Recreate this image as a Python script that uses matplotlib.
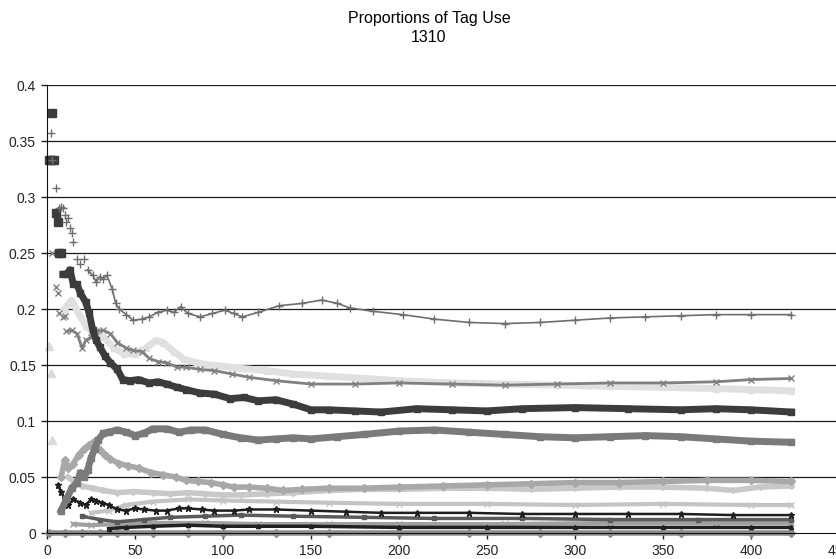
import matplotlib
matplotlib.use("Agg")
import matplotlib.pyplot as plt

plt.rcParams['font.family'] = ['Liberation Sans', 'DejaVu Sans']

# gray "+" series (upper, ends ~0.195)
plus_start_x = [2, 3, 5, 7, 8, 9, 10, 11, 12, 13, 14, 15, 17, 19, 21]
plus_start_y = [0.357, 0.333, 0.308, 0.29, 0.291, 0.29, 0.284, 0.278, 0.281, 0.272, 0.268, 0.26, 0.245, 0.24,
                0.245]
plus_x = [23, 26, 28, 30, 32, 34, 37, 39, 41, 45, 49, 54, 58, 63, 68, 72, 76,
          80, 87, 94, 101, 106, 111, 120, 132, 145, 156, 165, 172, 185, 202, 220, 240, 260, 280, 300, 320,
          340, 360, 380, 400, 423]
plus_y = [0.235, 0.23, 0.224, 0.229, 0.227, 0.23, 0.218, 0.205, 0.2, 0.195, 0.19, 0.191, 0.193, 0.197,
          0.199, 0.197, 0.202, 0.196, 0.193, 0.196, 0.199, 0.196, 0.193, 0.197, 0.203, 0.205, 0.208, 0.205,
          0.201, 0.198, 0.195, 0.191, 0.188, 0.187, 0.188, 0.19, 0.192, 0.193, 0.194, 0.195, 0.195, 0.195]

# dark squares (ends ~0.108)
dark_start_x = [1, 2, 3, 4, 5, 6, 7, 8]
dark_start_y = [0.333, 0.333, 0.375, 0.333, 0.286, 0.278, 0.25, 0.25]
dark_x = [9, 11, 13, 15, 17, 19, 22, 24, 26, 28, 30, 33, 36, 40, 43, 47, 52, 58, 63, 68,
          74, 79, 87, 95, 104, 112, 120, 130, 140, 150, 160, 175, 190, 210, 230, 250, 270, 300, 330, 360,
          380, 400, 423]
dark_y = [0.231, 0.231, 0.235, 0.222, 0.222, 0.214, 0.206, 0.196, 0.181, 0.172, 0.166, 0.158, 0.152, 0.146,
          0.137, 0.136, 0.137, 0.134, 0.135, 0.133, 0.13, 0.128, 0.125, 0.124, 0.12, 0.121, 0.118, 0.119,
          0.115, 0.11, 0.11, 0.109, 0.108, 0.111, 0.11, 0.109, 0.111, 0.112, 0.111, 0.11, 0.111, 0.11, 0.108]

# gray stars (ends ~0.138)
star_start_x = [3, 5, 6, 7, 9, 10]
star_start_y = [0.25, 0.22, 0.214, 0.196, 0.193, 0.194]
star_x = [11, 14, 17, 20, 22, 25, 28, 32, 36, 40, 45, 49, 54, 58, 63, 68, 74, 79, 87, 95, 105,
          115, 130, 150, 175, 200, 230, 260, 290, 320, 350, 380, 400, 423]
star_y = [0.18, 0.181, 0.178, 0.165, 0.172, 0.175, 0.18, 0.181, 0.178, 0.17,
          0.165, 0.163, 0.162, 0.156, 0.153, 0.152, 0.148, 0.148, 0.146, 0.145, 0.142, 0.139, 0.136, 0.133,
          0.133, 0.134, 0.133, 0.132, 0.133, 0.134, 0.134, 0.135, 0.137, 0.138]

# light triangles (ends ~0.127)
tri_start_x = [1, 2, 3]
tri_start_y = [0.167, 0.143, 0.083]
tri_x = [10, 14, 18, 22, 27, 32, 38, 44, 50, 56, 62, 66, 72, 78, 85, 92, 100, 110, 125, 140, 160, 180, 200,
         230, 260, 290, 320, 350, 380, 400, 423]
tri_y = [0.2, 0.208, 0.196, 0.185, 0.178, 0.175, 0.165, 0.16, 0.16, 0.165, 0.172, 0.17, 0.162, 0.155, 0.152,
         0.15, 0.149, 0.147, 0.145, 0.142, 0.14, 0.138, 0.136, 0.134, 0.133, 0.132, 0.131, 0.13, 0.129,
         0.128, 0.127]

# medium gray squares (ends ~0.081)
mid_x = [8, 11, 14, 17, 19, 21, 23, 25, 27, 29, 32, 35, 40, 45, 50, 55, 60, 68, 75, 82, 90, 100, 110, 120,
         130, 140, 150, 165, 180, 200, 220, 240, 260, 280, 300, 320, 340, 360, 380, 400, 423]
mid_y = [0.02, 0.03, 0.04, 0.045, 0.054, 0.05, 0.056, 0.067, 0.075, 0.083, 0.089, 0.09, 0.092, 0.09, 0.087,
         0.089, 0.093, 0.093, 0.09, 0.092, 0.092, 0.088, 0.085, 0.083, 0.084, 0.085, 0.084, 0.086, 0.088,
         0.091, 0.092, 0.09, 0.088, 0.086, 0.085, 0.086, 0.087, 0.086, 0.084, 0.082, 0.081]

# light gray diamonds (peak ~0.08 then ~0.046)
light_x = [8, 10, 12, 15, 18, 21, 24, 27, 30, 33, 36, 41, 46, 52, 59, 66, 73, 79, 86, 93, 100, 106, 115, 125,
           134, 145, 160, 180, 200, 225, 250, 275, 300, 325, 350, 375, 400, 423]
light_y = [0.05, 0.065, 0.058, 0.062, 0.07, 0.075, 0.079, 0.082, 0.074, 0.07, 0.066, 0.062, 0.06, 0.058,
           0.054, 0.052, 0.05, 0.047, 0.046, 0.045, 0.043, 0.041, 0.041, 0.04, 0.038, 0.039, 0.04, 0.04,
           0.041, 0.042, 0.043, 0.044, 0.045, 0.045, 0.046, 0.047, 0.047, 0.046]

# pale band (~0.04)
pale_x = [12, 16, 20, 26, 32, 40, 49, 60, 70, 80, 90, 100, 110, 125, 140, 160, 180, 200, 225, 250, 275, 300,
          325, 350, 375, 390, 405, 423]
pale_y = [0.05, 0.045, 0.042, 0.04, 0.038, 0.036, 0.037, 0.036, 0.035, 0.036, 0.035, 0.034, 0.034, 0.035,
          0.036, 0.038, 0.039, 0.039, 0.04, 0.04, 0.039, 0.04, 0.041, 0.041, 0.04, 0.038, 0.041, 0.042]

# black asterisks (~0.02)
black_x = [6, 8, 10, 12, 15, 19, 22, 25, 28, 31, 35, 40, 45, 50, 55, 62, 68, 75, 80, 88, 95, 106, 115, 130,
           150, 170, 190, 210, 240, 270, 300, 330, 360, 390, 423]
black_y = [0.043, 0.037, 0.03, 0.025, 0.03, 0.027, 0.025, 0.03, 0.029, 0.027, 0.025, 0.021, 0.02, 0.022,
           0.021, 0.02, 0.02, 0.022, 0.022, 0.021, 0.02, 0.02, 0.021, 0.021, 0.02, 0.019, 0.018, 0.018,
           0.018, 0.017, 0.017, 0.017, 0.017, 0.016, 0.016]

# low series
lowa_x = [25, 35, 45, 60, 80, 100, 130, 160, 200, 250, 300, 350, 400, 423]
lowa_y = [0.018, 0.02, 0.025, 0.028, 0.03, 0.029, 0.028, 0.027, 0.026, 0.026, 0.025, 0.026, 0.025, 0.025]
lowb_x = [20, 30, 40, 55, 70, 90, 110, 140, 180, 220, 270, 320, 370, 423]
lowb_y = [0.015, 0.012, 0.01, 0.012, 0.014, 0.015, 0.016, 0.015, 0.014, 0.013, 0.013, 0.012, 0.012, 0.012]
lowc_x = [35, 45, 60, 80, 100, 120, 150, 200, 250, 300, 350, 400, 423]
lowc_y = [0.004, 0.005, 0.006, 0.007, 0.006, 0.006, 0.006, 0.005, 0.005, 0.005, 0.005, 0.005, 0.005]
lowd_x = [15, 25, 40, 60, 90, 120, 160, 200, 260, 320, 380, 423]
lowd_y = [0.008, 0.007, 0.008, 0.009, 0.009, 0.008, 0.008, 0.008, 0.008, 0.009, 0.009, 0.009]
zero_x = [1, 10, 20, 30, 40, 60, 80, 100, 130, 160, 200, 240, 280, 320, 360, 400, 423]
zero_y = [0, 0, 0, 0, 0, 0, 0, 0, 0, 0, 0, 0, 0, 0, 0, 0, 0]

y_ticks = [0, 0.05, 0.1, 0.15, 0.2, 0.25, 0.3, 0.35, 0.4]
y_labels = ['0', '0.05', '0.1', '0.15', '0.2', '0.25', '0.3', '0.35', '0.4']
x_ticks = [0, 50, 100, 150, 200, 250, 300, 350, 400, 450]

fig = plt.figure(figsize=(8.37, 5.59), dpi=100)
ax = fig.add_axes([0.0562, 0.0465, 0.9462, 0.8014])

for y in y_ticks[1:]:
    ax.axhline(y, color='#1a1a1a', lw=0.9, zorder=0)

kw = dict(clip_on=False)
ax.plot(zero_x, zero_y, color='#8c8c8c', lw=4, marker='D', ms=4, **kw)
ax.plot(lowd_x, lowd_y, color='#a0a0a0', lw=3, marker='x', ms=4, **kw)
ax.plot(lowb_x, lowb_y, color='#5a5a5a', lw=2.5, marker='s', ms=3, **kw)
ax.plot(lowc_x, lowc_y, color='#202020', lw=2.5, marker='^', ms=3, **kw)
ax.plot(lowa_x, lowa_y, color='#c4c4c4', lw=3, marker='x', ms=4, **kw)
ax.plot(pale_x, pale_y, color='#c8c8c8', lw=4, marker='D', ms=3, **kw)
ax.plot(light_x, light_y, color='#a8a8a8', lw=4, marker='D', ms=4, **kw)
ax.plot(black_x, black_y, color='#1e1e1e', lw=1.8, marker='*', ms=5, **kw)
ax.plot(mid_x, mid_y, color='#7a7a7a', lw=5, marker='s', ms=5, **kw)
ax.plot(tri_start_x, tri_start_y, color='#dadada', lw=0, marker='^', ms=6, **kw)
ax.plot(tri_x, tri_y, color='#e0e0e0', lw=5, marker='^', ms=5, **kw)
ax.plot(star_start_x, star_start_y, color='#808080', lw=0, marker='x', ms=5, **kw)
ax.plot(star_x, star_y, color='#808080', lw=2, marker='x', ms=5, **kw)
ax.plot(dark_start_x, dark_start_y, color='#3c3c3c', lw=0, marker='s', ms=6, **kw)
ax.plot(dark_x, dark_y, color='#3c3c3c', lw=5, marker='s', ms=5, **kw)
ax.plot(plus_start_x, plus_start_y, color='#6e6e6e', lw=0, marker='+', ms=6, **kw)
ax.plot(plus_x, plus_y, color='#6e6e6e', lw=1.2, marker='+', ms=6, **kw)

ax.set_xlim(0, 450)
ax.set_ylim(0, 0.4)
ax.set_xticks(x_ticks)
ax.set_yticks(y_ticks)
ax.set_yticklabels(y_labels)
ax.tick_params(direction='out', length=4, width=1, labelsize=10, colors='#222222', pad=4)
for s in ['top', 'right']:
    ax.spines[s].set_visible(False)
for s in ['left', 'bottom']:
    ax.spines[s].set_color('#111111')

fig.text(0.5125, 1 - 19 / 559, 'Proportions of Tag Use', ha='center', va='center', fontsize=11.5)
fig.text(0.5125, 1 - 38 / 559, '1310', ha='center', va='center', fontsize=11.5)

fig.savefig('out.png', dpi=100)
